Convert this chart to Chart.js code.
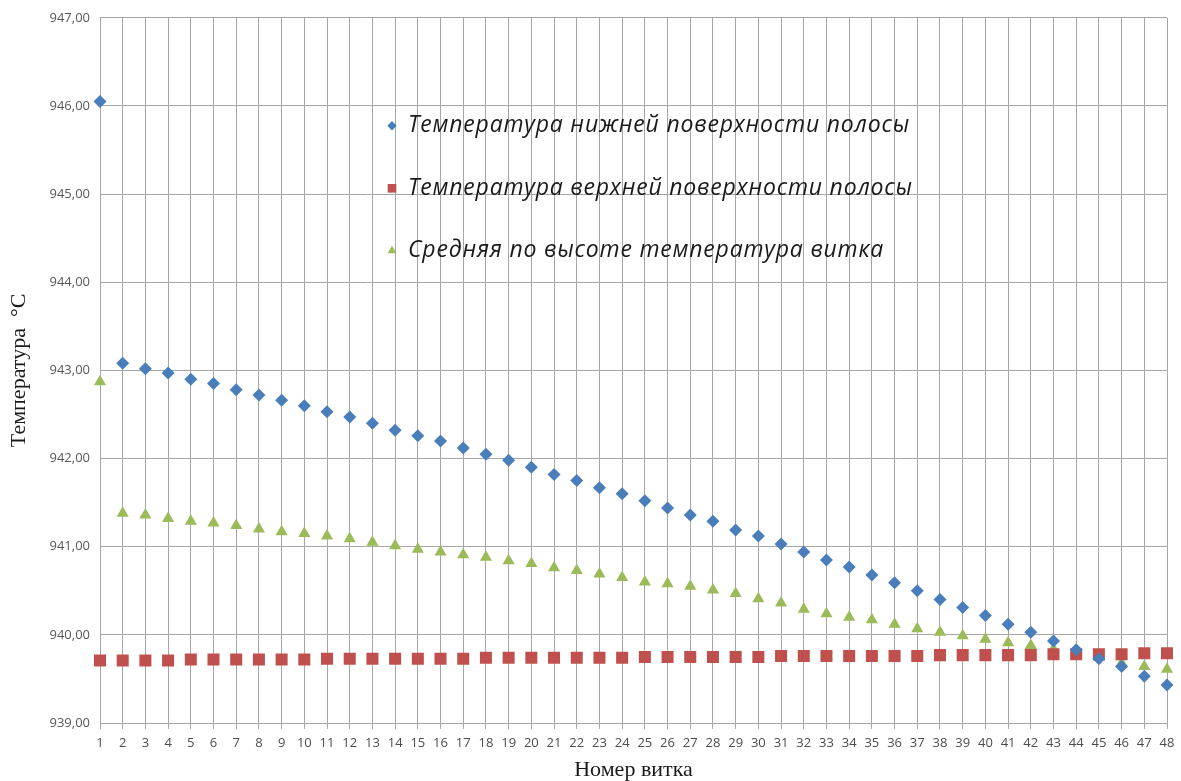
<!DOCTYPE html>
<html>
<head>
<meta charset="utf-8">
<script src="https://cdn.jsdelivr.net/npm/chart.js@4"></script>
<style>
  html, body { margin: 0; padding: 0; background: #fff; }
  #wrap { width: 1181px; height: 781px; }
</style>
</head>
<body>
<div id="wrap"><canvas id="chart" width="1181" height="781"></canvas></div>
<script>
// номера витков
const turns = Array.from({ length: 48 }, (_, i) => String(i + 1));

// температура нижней поверхности полосы
const bottomTemp = [
  946.05, 943.08, 943.02, 942.97, 942.90, 942.85, 942.78, 942.72, 942.66, 942.60,
  942.53, 942.47, 942.40, 942.32, 942.26, 942.20, 942.12, 942.05, 941.98, 941.90,
  941.82, 941.75, 941.67, 941.60, 941.52, 941.44, 941.36, 941.29, 941.19, 941.12,
  941.03, 940.94, 940.85, 940.77, 940.68, 940.59, 940.50, 940.40, 940.31, 940.22,
  940.12, 940.03, 939.93, 939.83, 939.73, 939.64, 939.53, 939.43
];

// температура верхней поверхности полосы
const topTemp = [
  939.71, 939.71, 939.71, 939.71, 939.72, 939.72, 939.72, 939.72, 939.72, 939.72,
  939.73, 939.73, 939.73, 939.73, 939.73, 939.73, 939.73, 939.74, 939.74, 939.74,
  939.74, 939.74, 939.74, 939.74, 939.75, 939.75, 939.75, 939.75, 939.75, 939.75,
  939.76, 939.76, 939.76, 939.76, 939.76, 939.76, 939.76, 939.77, 939.77, 939.77,
  939.77, 939.77, 939.78, 939.78, 939.78, 939.78, 939.79, 939.79
];

// средняя по высоте температура витка
const meanTemp = [
  942.87, 941.38, 941.36, 941.32, 941.29, 941.27, 941.24, 941.20, 941.17, 941.15,
  941.12, 941.09, 941.05, 941.01, 940.97, 940.94, 940.91, 940.88, 940.84, 940.81,
  940.76, 940.73, 940.69, 940.65, 940.60, 940.58, 940.55, 940.51, 940.47, 940.41,
  940.36, 940.29, 940.24, 940.20, 940.17, 940.12, 940.07, 940.03, 939.99, 939.95,
  939.91, 939.88, 939.84, 939.80, 939.75, 939.68, 939.64, 939.61
];

const yTicks = [939, 940, 941, 942, 943, 944, 945, 946, 947];

const seriesNames = [
  'Температура нижней поверхности полосы',
  'Температура верхней поверхности полосы',
  'Средняя по высоте температура витка'
];

// легенда внутри области построения
const innerLegend = {
  id: 'innerLegend',
  afterDraw(chart) {
    const ctx = chart.ctx;
    const area = chart.chartArea;
    ctx.save();
    ctx.font = 'italic 23px "Open Sans"';
    ctx.letterSpacing = '0.8px';
    ctx.textBaseline = 'middle';
    chart.data.datasets.forEach((ds, i) => {
      const y = area.top + 108 + i * 62.5;
      const x = area.left + 292;
      ctx.fillStyle = ds.backgroundColor;
      Chart.helpers.drawPoint(ctx, {
        pointStyle: ds.pointStyle, radius: ds.pointRadius * 0.72, borderWidth: 0
      }, x, y);
      ctx.fillStyle = '#1a1a1a';
      ctx.fillText(ds.label, x + 16, y);
    });
    ctx.restore();
  }
};

new Chart(document.getElementById('chart'), {
  type: 'line',
  data: {
    labels: turns,
    datasets: [
      {
        label: seriesNames[0],
        data: bottomTemp,
        showLine: false,
        pointStyle: 'rectRot',
        pointRadius: 6.5,
        backgroundColor: '#4a7ebb',
        borderColor: '#4a7ebb',
        borderWidth: 0
      },
      {
        label: seriesNames[1],
        data: topTemp,
        showLine: false,
        pointStyle: 'rect',
        pointRadius: 8.5,
        backgroundColor: '#c0504d',
        borderColor: '#c0504d',
        borderWidth: 0
      },
      {
        label: seriesNames[2],
        data: meanTemp,
        showLine: false,
        pointStyle: 'triangle',
        pointRadius: 7,
        backgroundColor: '#9bbb59',
        borderColor: '#9bbb59',
        borderWidth: 0
      }
    ]
  },
  options: {
    responsive: false,
    animation: false,
    layout: { padding: { top: 10, right: 14, left: 6, bottom: 0 } },
    plugins: {
      legend: { display: false },
      tooltip: { enabled: false }
    },
    scales: {
      x: {
        offset: false,
        grid: { color: '#a6a6a6', lineWidth: 1, tickLength: 6, drawTicks: true },
        border: { color: '#a6a6a6' },
        ticks: {
          autoSkip: false, maxRotation: 0,
          color: '#4d4d4d', font: { family: '"Open Sans"', size: 13 }, padding: 6
        },
        title: {
          display: true, text: 'Номер витка', color: '#1a1a1a',
          font: { family: '"Liberation Serif"', size: 22 }, padding: { top: 0, bottom: -2 }
        }
      },
      y: {
        min: 939, max: 947,
        afterBuildTicks: scale => { scale.ticks = yTicks.map(v => ({ value: v })); },
        afterFit: scale => { scale.width = 94; },
        grid: { color: '#a6a6a6', lineWidth: 1, drawTicks: false },
        border: { color: '#a6a6a6' },
        ticks: {
          color: '#595959', font: { family: '"Open Sans"', size: 13 }, padding: 10,
          callback: v => v.toFixed(2).replace('.', ',')
        },
        title: {
          display: true, text: 'Температура  °C', color: '#1a1a1a',
          font: { family: '"Liberation Serif"', size: 22 }, padding: { top: 0, bottom: 2 }
        }
      }
    }
  },
  plugins: [innerLegend]
});
</script>
</body>
</html>
